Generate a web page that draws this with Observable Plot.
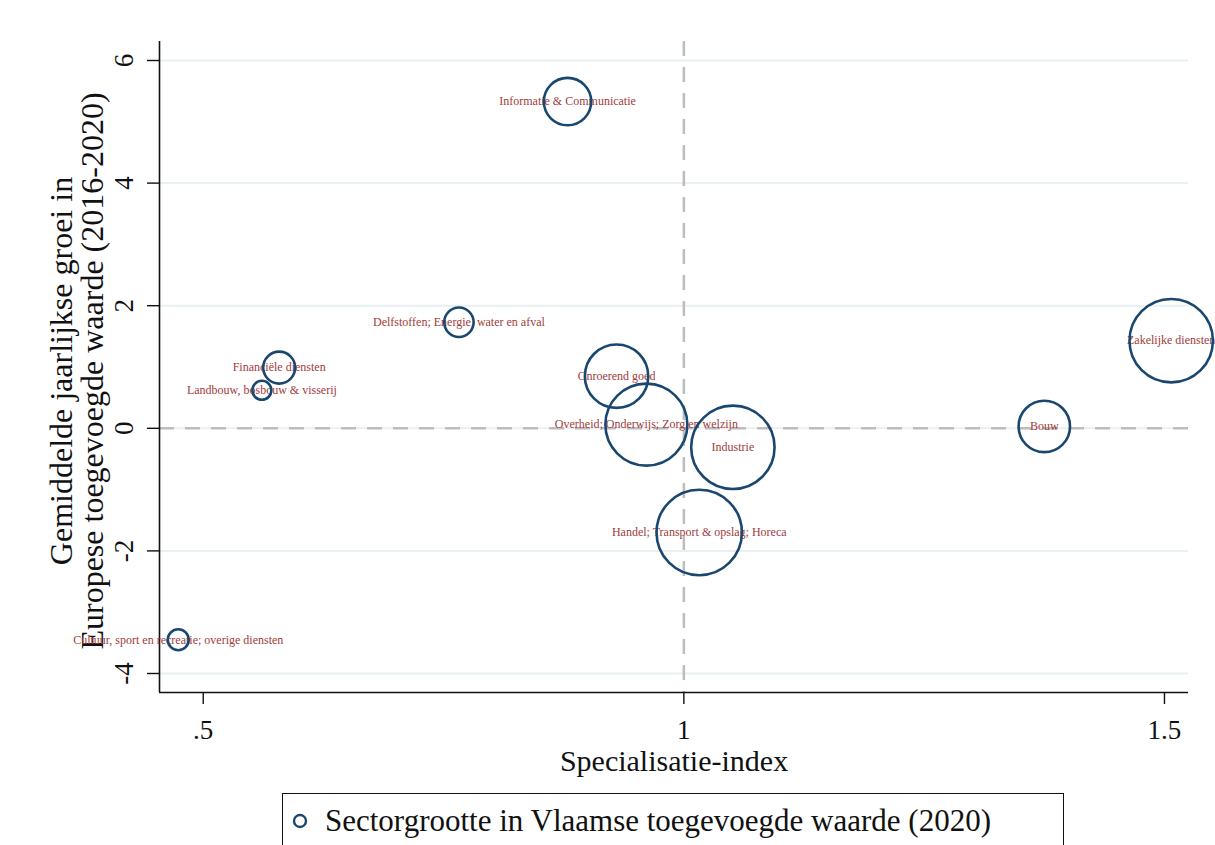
<!DOCTYPE html>
<html>
<head>
<meta charset="utf-8">
<script src="https://cdn.jsdelivr.net/npm/d3@7"></script>
<script src="https://cdn.jsdelivr.net/npm/@observablehq/plot@0.6"></script>
<style>
  html, body { margin: 0; padding: 0; background: #fff; }
  #wrap { position: relative; width: 1215px; height: 845px; overflow: hidden; font-family: "Liberation Serif", "Times New Roman", serif; }
  #legend { position: absolute; left: 282px; top: 793px; width: 782px; height: 80px; border: 1.5px solid #111; background: #fff; box-sizing: border-box; }
  #legend svg { position: absolute; left: 0; top: 0; }
  #legend span { position: absolute; left: 42px; top: 9px; font-size: 31px; color: #111; white-space: nowrap; line-height: 36px; }
</style>
</head>
<body>
<div id="wrap">
  <div id="chart"></div>
  <div id="legend">
    <svg width="40" height="60"><circle cx="17" cy="27" r="6" fill="none" stroke="#1a476f" stroke-width="2.4"></circle></svg>
    <span id="legendText"></span>
  </div>
</div>
<script>
// ---- Data ----
const sectors = [
  "Informatie & Communicatie",
  "Delfstoffen; Energie, water en afval",
  "Financiële diensten",
  "Landbouw, bosbouw & visserij",
  "Onroerend goed",
  "Overheid; Onderwijs; Zorg en welzijn",
  "Industrie",
  "Handel; Transport & opslag; Horeca",
  "Bouw",
  "Zakelijke diensten",
  "Cultuur, sport en recreatie; overige diensten"
];
const specialisatie = [0.879, 0.766, 0.579, 0.561, 0.930, 0.961, 1.051, 1.016, 1.375, 1.507, 0.474];
const groei = [5.33, 1.73, 0.99, 0.62, 0.85, 0.06, -0.31, -1.70, 0.03, 1.43, -3.45];
const sectorgrootte = [5.67, 2.18, 2.58, 0.91, 10.14, 16.96, 17.55, 18.4, 6.67, 17.55, 1.11];

const xTicks = [0.5, 1, 1.5];
const yTicks = [-4, -2, 0, 2, 4, 6];
const xDomain = [0.4545, 1.525];
const yDomain = [-4.31, 6.31];

const xTitle = "Specialisatie-index";
const yTitle = "Gemiddelde jaarlijkse groei in\nEuropese toegevoegde waarde (2016-2020)";
const legendLabel = "Sectorgrootte in Vlaamse toegevoegde waarde (2020)";

const data = sectors.map((s, i) => ({sector: s, x: specialisatie[i], y: groei[i], size: sectorgrootte[i]}));

const serif = '"Liberation Serif", "Times New Roman", serif';
const fmt = d => String(d).replace(/^0\./, ".");

const chart = Plot.plot({
  width: 1215,
  height: 790,
  marginTop: 41,
  marginBottom: 98,
  marginLeft: 159,
  marginRight: 27,
  style: {fontFamily: serif, background: "transparent", color: "#111"},
  x: {domain: xDomain},
  y: {domain: yDomain},
  r: {type: "sqrt", range: [0, 42.7]},
  marks: [
    Plot.gridY(yTicks, {stroke: "#e8f0f2", strokeOpacity: 1, strokeWidth: 2}),
    Plot.ruleX([1], {stroke: "#bdbdbd", strokeWidth: 2.5, strokeDasharray: "15,11"}),
    Plot.ruleY([0], {stroke: "#bdbdbd", strokeWidth: 2.5, strokeDasharray: "15,11"}),
    Plot.ruleX([xDomain[0]], {stroke: "#111", strokeWidth: 1.6}),
    Plot.ruleY([yDomain[0]], {stroke: "#111", strokeWidth: 1.6}),
    Plot.axisX({ticks: xTicks, tickFormat: fmt, tickSize: 12, tickPadding: 15, fontSize: 27, label: null, stroke: "#111", strokeWidth: 1.4}),
    Plot.axisY({ticks: yTicks, tickFormat: fmt, tickSize: 12, tickPadding: 15, tickRotate: -90, fontSize: 27, label: null, stroke: "#111", strokeWidth: 1.4}),
    Plot.text([yTitle], {frameAnchor: "left", textAnchor: "middle", dx: -82, dy: 4, rotate: -90, fontSize: 32, lineHeight: 0.98, fill: "#111"}),
    Plot.text([xTitle], {frameAnchor: "bottom", dy: 78, fontSize: 30, fill: "#111"}),
    Plot.text(data, {x: "x", y: "y", text: "sector", fill: "#a03c3c", fontSize: 12}),
    Plot.dot(data, {x: "x", y: "y", r: "size", stroke: "#1a476f", strokeWidth: 2.6, fill: "none"})
  ]
});
document.getElementById("chart").appendChild(chart);
document.getElementById("legendText").textContent = legendLabel;
</script>
</body>
</html>
